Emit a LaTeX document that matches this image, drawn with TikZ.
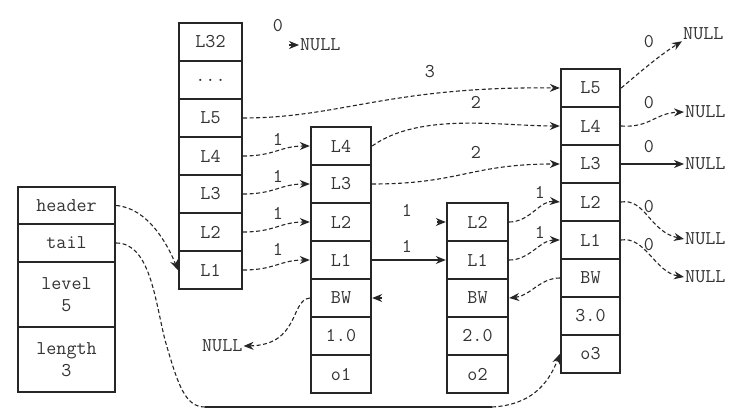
\documentclass[tikz,border=0pt]{standalone}
\usetikzlibrary{arrows.meta}
\definecolor{ink}{HTML}{262626}
\definecolor{txt}{HTML}{333333}
\newcommand{\cellfont}{\ttfamily\fontsize{19.5}{22}\selectfont}
\begin{document}
\begin{tikzpicture}[x=1pt,y=-1pt,
  cell/.style={draw=ink, line width=2.4pt, minimum height=38pt, inner sep=0pt, font=\cellfont, text=txt, align=center},
  lbl/.style={font=\cellfont, text=txt, inner sep=0pt},
  nul/.style={font=\cellfont, text=txt, inner sep=1pt, anchor=west},
  link/.style={draw=ink, line width=1.1pt, dash pattern=on 4pt off 2.5pt, -{Stealth[length=10pt,width=8pt]}},
  slink/.style={draw=ink, line width=1.1pt, -{Stealth[length=10pt,width=8pt]}},
  plain/.style={draw=ink, line width=1.1pt, dash pattern=on 4pt off 2.5pt},
  tip/.style={draw=ink, line width=1.1pt, -{Stealth[length=10pt,width=8pt]}},
]
\useasboundingbox[fill=white] (0,0) rectangle (738,417);

% list structure
\node[cell, minimum width=97pt, minimum height=37pt] (header) at (66.5,205.5) {header};
\node[cell, minimum width=97pt] (tail) at (66.5,243) {tail};
\node[cell, minimum width=97pt, minimum height=65pt] (level) at (66.5,294.5) {level\\5};
\node[cell, minimum width=97pt, minimum height=65pt] (length) at (66.5,359.5) {length\\3};

% header node
\node[cell, minimum width=63pt] (h32) at (210.5,42) {L32};
\node[cell, minimum width=63pt] (hdots) at (210.5,80) {...};
\node[cell, minimum width=63pt] (h5) at (210.5,118) {L5};
\node[cell, minimum width=63pt] (h4) at (210.5,156) {L4};
\node[cell, minimum width=63pt] (h3) at (210.5,194) {L3};
\node[cell, minimum width=63pt] (h2) at (210.5,232) {L2};
\node[cell, minimum width=63pt] (h1) at (210.5,270) {L1};

% node o1
\node[cell, minimum width=60pt] (a4) at (341,146) {L4};
\node[cell, minimum width=60pt] (a3) at (341,184) {L3};
\node[cell, minimum width=60pt] (a2) at (341,222) {L2};
\node[cell, minimum width=60pt] (a1) at (341,260) {L1};
\node[cell, minimum width=60pt] (abw) at (341,298) {BW};
\node[cell, minimum width=60pt] (asc) at (341,336) {1.0};
\node[cell, minimum width=60pt] (aobj) at (341,374) {o1};

% node o2
\node[cell, minimum width=61pt] (b2) at (477.5,222) {L2};
\node[cell, minimum width=61pt] (b1) at (477.5,260) {L1};
\node[cell, minimum width=61pt] (bbw) at (477.5,298) {BW};
\node[cell, minimum width=61pt] (bsc) at (477.5,336) {2.0};
\node[cell, minimum width=61pt] (bobj) at (477.5,374) {o2};

% node o3
\node[cell, minimum width=59pt] (c5) at (590.5,88) {L5};
\node[cell, minimum width=59pt] (c4) at (590.5,126) {L4};
\node[cell, minimum width=59pt] (c3) at (590.5,164) {L3};
\node[cell, minimum width=59pt] (c2) at (590.5,202) {L2};
\node[cell, minimum width=59pt] (c1) at (590.5,240) {L1};
\node[cell, minimum width=59pt] (cbw) at (590.5,278) {BW};
\node[cell, minimum width=59pt] (csc) at (590.5,316) {3.0};
\node[cell, minimum width=59pt] (cobj) at (590.5,354) {o3};

% NULL targets
\node[nul] (n32) at (299,45) {NULL};
\node[nul] (nbw) at (201,346) {NULL};
\node[nul] (n5) at (682,34) {NULL};
\node[nul] (n4) at (684,112) {NULL};
\node[nul] (n3) at (684,164) {NULL};
\node[nul] (n2) at (684,239) {NULL};
\node[nul] (n1) at (684,277) {NULL};

% span labels
\node[lbl] at (278,26) {0};
\node[lbl] at (430,72) {3};
\node[lbl] at (476,102) {2};
\node[lbl] at (476,152) {2};
\node[lbl] at (278,139) {1};
\node[lbl] at (278,176) {1};
\node[lbl] at (278,213) {1};
\node[lbl] at (278,249) {1};
\node[lbl] at (407,210) {1};
\node[lbl] at (407,246) {1};
\node[lbl] at (540,192) {1};
\node[lbl] at (540,232) {1};
\node[lbl] at (649,42) {0};
\node[lbl] at (649,103) {0};
\node[lbl] at (649,147) {0};
\node[lbl] at (649,207) {0};
\node[lbl] at (649,245) {0};

% header -> first level pointers
\coordinate (s32) at (289,45);
\draw[tip] (s32) -- (n32.west);
\draw[link] (h5.east) .. controls (340,118) and (390,86) .. (c5.west);
\draw[link] (h4.east) .. controls (275,156) and (280,146) .. (a4.west);
\draw[link] (h3.east) .. controls (275,194) and (280,184) .. (a3.west);
\draw[link] (h2.east) .. controls (275,232) and (280,222) .. (a2.west);
\draw[link] (h1.east) .. controls (275,270) and (280,260) .. (a1.west);

% o1 pointers
\draw[link] (a4.east) .. controls (420,112) and (500,126) .. (c4.west);
\draw[link] (a3.east) .. controls (460,184) and (470,164) .. (c3.west);
\coordinate (sb2) at (437,222);
\draw[tip] (sb2) -- (b2.west);
\draw[slink] (a1.east) -- (b1.west);
\draw[link] (abw.west) .. controls (290,300) and (300,345) .. (nbw.east);

% o2 pointers
\draw[link] (b2.east) .. controls (530,222) and (540,200) .. (c2.west);
\draw[link] (b1.east) .. controls (530,260) and (540,240) .. (c1.west);
\coordinate (sbw) at (382,298);
\draw[tip] (sbw) -- (abw.east);

% o3 pointers
\draw[link] (cbw.west) .. controls (540,278) and (530,296) .. (bbw.east);
\draw[link] (c5.east) .. controls (640,72) and (660,55) .. (n5.south west);
\draw[link] (c4.east) .. controls (650,128) and (655,113) .. (n4.west);
\draw[slink] (c3.east) -- (n3.west);
\draw[link] (c2.east) .. controls (645,198) and (650,232) .. (n2.west);
\draw[link] (c1.east) .. controls (645,236) and (655,272) .. (n1.west);

% list pointers
\draw[link] (header.east) .. controls (148,208) and (168,245) .. (h1.west);
\coordinate (tb1) at (205,407);
\coordinate (tb2) at (492,407);
\draw[plain] (tail.east) .. controls (150,243) and (155,300) .. (165,340) .. controls (178,385) and (185,407) .. (tb1);
\draw[draw=ink, line width=1.1pt] (tb1) -- (tb2);
\draw[link] (tb2) .. controls (530,405) and (548,385) .. (cobj.west);
\end{tikzpicture}
\end{document}
